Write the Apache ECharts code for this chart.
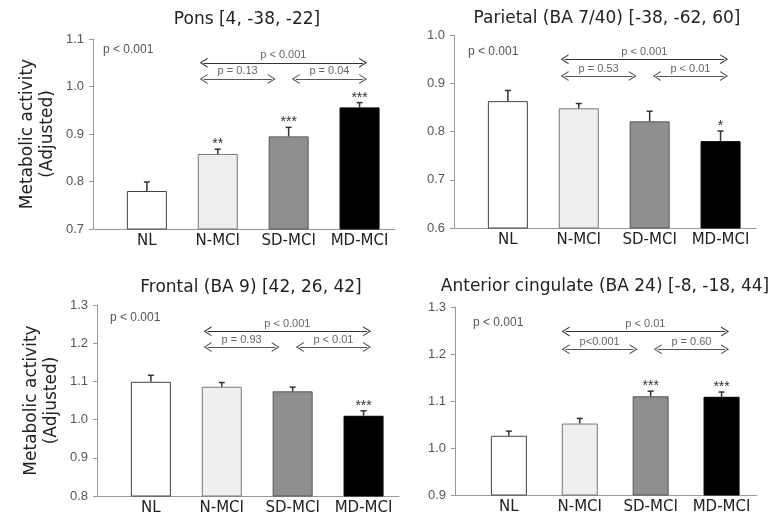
<!DOCTYPE html>
<html>
<head>
<meta charset="utf-8">
<script src="https://cdn.jsdelivr.net/npm/echarts@6/dist/echarts.min.js"></script>
<style>
  html, body { margin: 0; padding: 0; background: #fff; }
</style>
</head>
<body>
<div id="chart" style="width: 773px; height: 517px;"></div>
<script>
// groups on the x axis
const groups = ['NL', 'N-MCI', 'SD-MCI', 'MD-MCI']

// Pons [4, -38, -22]
const ponsMean = [0.780, 0.858, 0.895, 0.956]
const ponsErr = [0.019, 0.010, 0.019, 0.010]
const ponsStars = ['', '**', '***', '***']
const ponsP = ['p < 0.001', 'p = 0.13', 'p = 0.04']

// Parietal (BA 7/40)
const parMean = [0.863, 0.848, 0.821, 0.780]
const parErr = [0.022, 0.010, 0.021, 0.021]
const parStars = ['', '', '', '*']
const parP = ['p < 0.001', 'p = 0.53', 'p < 0.01']

// Frontal (BA 9)
const frontMean = [1.099, 1.086, 1.074, 1.010]
const frontErr = [0.017, 0.011, 0.011, 0.013]
const frontStars = ['', '', '', '***']
const frontP = ['p < 0.001', 'p = 0.93', 'p < 0.01']

// Anterior cingulate (BA 24)
const acMean = [1.026, 1.052, 1.110, 1.109]
const acErr = [0.010, 0.011, 0.011, 0.010]
const acStars = ['', '', '***', '***']
const acP = ['p < 0.01', 'p<0.001', 'p = 0.60']

const overallP = 'p < 0.001'

let mychart = echarts.init(document.getElementById('chart'))

const barStyles = [
  { color: '#ffffff', borderColor: '#444', borderWidth: 1 },
  { color: '#efefef', borderColor: '#777', borderWidth: 1 },
  { color: '#8f8f8f', borderColor: '#555', borderWidth: 1 },
  { color: '#000000', borderColor: '#000', borderWidth: 1 }
]

const panels = [
  { title: 'Pons [4, -38, -22]', mean: ponsMean, err: ponsErr, stars: ponsStars, p: ponsP,
    grid: { left: 93, top: 39, width: 302, height: 190 }, y: [0.7, 1.1], arrowY: [1.050, 1.016],
    titleX: 247, titleY: 11, pX: 103, pY: 44, barWidth: 40, yName: true },
  { title: 'Parietal (BA 7/40) [-38, -62, 60]', mean: parMean, err: parErr, stars: parStars, p: parP,
    grid: { left: 454, top: 35, width: 302, height: 193 }, y: [0.6, 1.0], arrowY: [0.950, 0.915],
    titleX: 607, titleY: 10, pX: 468, pY: 46, barWidth: 40, yName: false },
  { title: 'Frontal (BA 9) [42, 26, 42]', mean: frontMean, err: frontErr, stars: frontStars, p: frontP,
    grid: { left: 97, top: 305, width: 302, height: 191 }, y: [0.8, 1.3], arrowY: [1.231, 1.190],
    titleX: 251, titleY: 279, pX: 110, pY: 312, barWidth: 40, yName: true },
  { title: 'Anterior cingulate (BA 24) [-8, -18, 44]', mean: acMean, err: acErr, stars: acStars, p: acP,
    grid: { left: 455, top: 307, width: 302, height: 188 }, y: [0.9, 1.3], arrowY: [1.248, 1.210],
    titleX: 605, titleY: 278, pX: 473, pY: 317, barWidth: 36, yName: false }
]

// open chevron pointing along the line
const chevron = 'path://M0,10 L5,0 L10,10 L8.8,10 L5,2.4 L1.2,10 Z'

const titles = []
const grids = []
const xAxes = []
const yAxes = []
const series = []

panels.forEach(function (pn, i) {
  titles.push({
    text: pn.title, left: pn.titleX, top: pn.titleY, textAlign: 'center', padding: 0,
    textStyle: { fontSize: 17, fontWeight: 'normal', color: '#222', fontFamily: 'DejaVu Sans' }
  })
  titles.push({
    text: overallP, left: pn.pX, top: pn.pY, padding: 0,
    textStyle: { fontSize: 12, fontWeight: 'normal', color: '#555', fontFamily: 'Liberation Sans' }
  })
  grids.push(pn.grid)
  xAxes.push({
    type: 'value', gridIndex: i, min: -0.76, max: 3.5,
    axisLine: { onZero: false, lineStyle: { color: '#999' } },
    axisTick: { show: false },
    splitLine: { show: false },
    axisLabel: {
      customValues: [0, 1, 2, 3],
      formatter: function (v) { return groups[Math.round(v)] },
      fontSize: 15, color: '#222', margin: 5, fontFamily: 'DejaVu Sans'
    }
  })
  yAxes.push({
    type: 'value', gridIndex: i, min: pn.y[0], max: pn.y[1], interval: 0.1,
    name: pn.yName ? 'Metabolic activity\n(Adjusted)' : '',
    nameLocation: 'middle', nameGap: 35,
    nameTextStyle: { fontSize: 17, color: '#222', lineHeight: 20, fontFamily: 'DejaVu Sans' },
    axisLine: { show: true, onZero: false, lineStyle: { color: '#999' } },
    axisTick: { show: true, length: 4, lineStyle: { color: '#999' } },
    splitLine: { show: false },
    axisLabel: {
      formatter: function (v) { return v.toFixed(1) },
      fontSize: 13, color: '#555', margin: 9, fontFamily: 'Liberation Sans'
    }
  })
  const lineLabel = { show: true, position: 'insideMiddleTop', distance: 2, fontSize: 11, color: '#666', fontFamily: 'Liberation Sans' }
  series.push({
    type: 'bar', xAxisIndex: i, yAxisIndex: i, barWidth: pn.barWidth, silent: true,
    data: pn.mean.map(function (v, k) { return { value: [k, v], itemStyle: barStyles[k] } }),
    markLine: {
      silent: true, animation: false,
      symbol: [chevron, chevron], symbolSize: [10, 8],
      lineStyle: { color: '#555', width: 1, type: 'solid' },
      label: lineLabel,
      data: [
        [{ coord: [0.80, pn.arrowY[0]], label: { formatter: pn.p[0] }, lineStyle: { color: '#333' } }, { coord: [3.05, pn.arrowY[0]] }],
        [{ coord: [0.80, pn.arrowY[1]], label: { formatter: pn.p[1] } }, { coord: [1.76, pn.arrowY[1]] }],
        [{ coord: [2.10, pn.arrowY[1]], label: { formatter: pn.p[2] } }, { coord: [3.05, pn.arrowY[1]] }]
      ]
    }
  })
  series.push({
    type: 'custom', xAxisIndex: i, yAxisIndex: i, silent: true, z: 5,
    data: pn.mean.map(function (v, k) { return [k, v, v + pn.err[k]] }),
    renderItem: function (params, api) {
      const base = api.coord([api.value(0), api.value(1)])
      const top = api.coord([api.value(0), api.value(2)])
      const st = pn.stars[params.dataIndex]
      const kids = [
        { type: 'line', shape: { x1: base[0], y1: base[1], x2: top[0], y2: top[1] }, style: { stroke: '#333', lineWidth: 1.5 } },
        { type: 'line', shape: { x1: top[0] - 3, y1: top[1], x2: top[0] + 3, y2: top[1] }, style: { stroke: '#333', lineWidth: 1.5 } }
      ]
      if (st) {
        kids.push({ type: 'text', x: top[0], y: top[1] + 2,
          style: { text: st, fill: '#333', fontSize: 14, align: 'center', verticalAlign: 'bottom', fontFamily: 'Liberation Sans' } })
      }
      return { type: 'group', children: kids }
    }
  })
})

mychart.setOption({
  animation: false,
  backgroundColor: '#fff',
  title: titles,
  grid: grids,
  xAxis: xAxes,
  yAxis: yAxes,
  series: series
})
</script>
</body>
</html>
